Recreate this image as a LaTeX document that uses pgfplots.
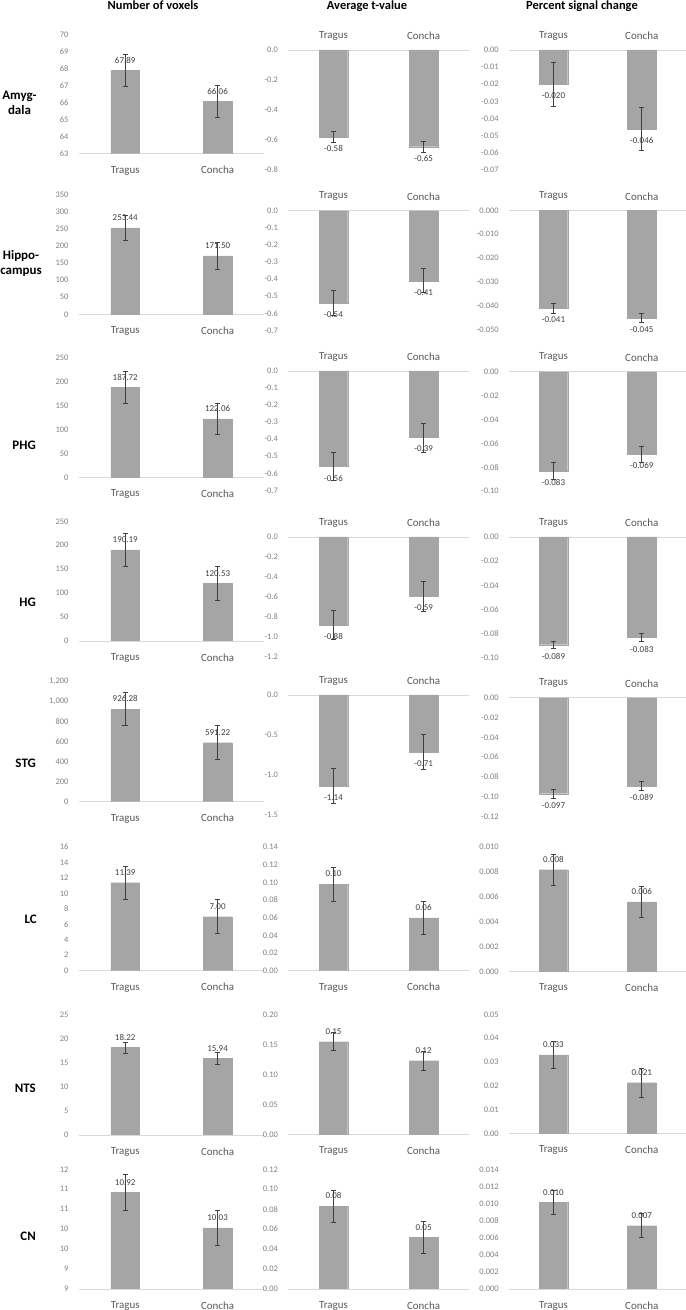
\documentclass[border=0pt]{standalone}
\usepackage{fontspec}
\setmainfont{Carlito}
\usepackage{pgfplots}
\pgfplotsset{compat=1.18}
\definecolor{bargray}{HTML}{A5A5A5}
\definecolor{tickgray}{HTML}{808080}
\definecolor{catgray}{HTML}{595959}
\definecolor{valgray}{HTML}{404040}
\definecolor{basegray}{HTML}{D9D9D9}
\definecolor{errgray}{HTML}{404040}
\pgfplotsset{
 panel/.style={
   scale only axis, anchor=south west,
   xmin=-0.5, xmax=1.5, xtick={0,1}, xticklabels={Tragus,Concha},
   axis y line*=left, y axis line style={draw=none},
   major tick length=0pt, scaled y ticks=false,
   ytick style={draw=none}, xtick style={draw=none},
   x axis line style={draw=basegray, line width=0.9bp, -},
   /pgf/number format/assume math mode=true,
   yticklabel style={font=\fontsize{8.5}{10}\selectfont, text=tickgray, xshift=-7bp},
   xticklabel style={font=\fontsize{11}{13}\selectfont, text=catgray},
   ybar, bar width=28.5bp,
   nodes near coords, point meta=explicit symbolic,
   every node near coord/.append style={font=\fontsize{9}{10}\selectfont, text=valgray},
 },
 pos/.style={panel, axis x line*=bottom, xticklabel style={yshift=-9bp},
   every node near coord/.append style={anchor=south, inner ysep=7bp}},
 neg/.style={panel, axis x line*=top, xticklabel style={yshift=6.5bp},
   every node near coord/.append style={anchor=north, inner ysep=8.5bp}},
 p0/.style={/pgf/number format/fixed,/pgf/number format/precision=0,/pgf/number format/1000 sep={,}},
 p1/.style={/pgf/number format/fixed,/pgf/number format/fixed zerofill,/pgf/number format/precision=1},
 p2/.style={/pgf/number format/fixed,/pgf/number format/fixed zerofill,/pgf/number format/precision=2},
 p3/.style={/pgf/number format/fixed,/pgf/number format/fixed zerofill,/pgf/number format/precision=3},
 bars/.style={fill=bargray, draw=bargray, line width=0.1bp,
   error bars/.cd, y dir=both, y explicit, error mark=-,
   error bar style={draw=errgray, line width=0.75bp, solid},
   error mark options={rotate=90, draw=errgray, line width=0.75bp, mark size=2.7bp, solid}},
}
\newcommand{\bardata}[1]{\addplot[bars] table[x=x,y=y,y error=e,meta=lab,row sep=\\]{#1};}
\begin{document}
\begin{tikzpicture}
\useasboundingbox (0,0) rectangle (686bp,1310bp);
% column titles
\node[font=\bfseries\fontsize{12.5}{15}\selectfont, anchor=base] at (153bp,1300bp) {Number of voxels};
\node[font=\bfseries\fontsize{12.5}{15}\selectfont, anchor=base] at (367bp,1300bp) {Average t-value};
\node[font=\bfseries\fontsize{12.5}{15}\selectfont, anchor=base] at (582bp,1300bp) {Percent signal change};
% row labels
\begin{scope}[every node/.style={font=\bfseries\fontsize{13}{15}\selectfont, align=center, inner sep=0pt}]
\node at (19.5bp,1207.5bp) {Amyg-\\dala};
\node at (21bp,1046.7bp) {Hippo-\\campus};
\node[anchor=east] at (36bp,865bp) {PHG};
\node[anchor=east] at (36bp,708bp) {HG};
\node[anchor=east] at (36bp,546.7bp) {STG};
\node[anchor=east] at (37bp,390.3bp) {LC};
\node[anchor=east] at (36bp,221.7bp) {NTS};
\node[anchor=east] at (36bp,73.3bp) {CN};
\end{scope}
%================ Row 1 Amygdala
\begin{axis}[pos,p0,at={(79bp,1156.3bp)},width=184.8bp,height=119.4bp,ymin=63,ymax=70,ytick={63,64,65,66,67,68,69,70}]
\bardata{x y e lab\\ 0 67.89 0.92 67.89\\ 1 66.06 0.95 66.06\\}
\end{axis}
\begin{axis}[neg,p1,at={(288.4bp,1140bp)},width=180.3bp,height=120bp,ymin=-0.8,ymax=0,ytick={-0.8,-0.6,-0.4,-0.2,0}]
\bardata{x y e lab\\ 0 -0.58 0.035 -0.58\\ 1 -0.645 0.035 -0.65\\}
\end{axis}
\begin{axis}[neg,p2,at={(509.3bp,1140bp)},width=176.6bp,height=120bp,ymin=-0.07,ymax=0,ytick={-0.07,-0.06,-0.05,-0.04,-0.03,-0.02,-0.01,0}]
\bardata{x y e lab\\ 0 -0.020 0.0126 -0.020\\ 1 -0.046 0.0126 -0.046\\}
\end{axis}
%================ Row 2 Hippocampus
\begin{axis}[pos,p0,at={(79bp,995.7bp)},width=184.8bp,height=119.3bp,ymin=0,ymax=350,ytick={0,50,100,150,200,250,300,350}]
\bardata{x y e lab\\ 0 253.44 37 253.44\\ 1 171.50 40 171.50\\}
\end{axis}
\begin{axis}[neg,p1,at={(288.4bp,979.6bp)},width=180.3bp,height=119.7bp,ymin=-0.7,ymax=0,ytick={-0.7,-0.6,-0.5,-0.4,-0.3,-0.2,-0.1,0}]
\bardata{x y e lab\\ 0 -0.54 0.073 -0.54\\ 1 -0.41 0.07 -0.41\\}
\end{axis}
\begin{axis}[neg,p3,at={(509.3bp,980bp)},width=176.6bp,height=119.7bp,ymin=-0.05,ymax=0,ytick={-0.05,-0.04,-0.03,-0.02,-0.01,0}]
\bardata{x y e lab\\ 0 -0.041 0.0021 -0.041\\ 1 -0.045 0.002 -0.045\\}
\end{axis}
%================ Row 3 PHG
\begin{axis}[pos,p0,at={(79bp,832.7bp)},width=184.8bp,height=119.6bp,ymin=0,ymax=250,ytick={0,50,100,150,200,250}]
\bardata{x y e lab\\ 0 187.72 33 187.72\\ 1 122.06 33 122.06\\}
\end{axis}
\begin{axis}[neg,p1,at={(288.4bp,819.6bp)},width=180.3bp,height=119.4bp,ymin=-0.7,ymax=0,ytick={-0.7,-0.6,-0.5,-0.4,-0.3,-0.2,-0.1,0}]
\bardata{x y e lab\\ 0 -0.56 0.082 -0.56\\ 1 -0.39 0.085 -0.39\\}
\end{axis}
\begin{axis}[neg,p2,at={(509.3bp,818.8bp)},width=176.6bp,height=119.5bp,ymin=-0.10,ymax=0,ytick={-0.1,-0.08,-0.06,-0.04,-0.02,0}]
\bardata{x y e lab\\ 0 -0.083 0.0067 -0.083\\ 1 -0.069 0.0067 -0.069\\}
\end{axis}
%================ Row 4 HG
\begin{axis}[pos,p0,at={(79bp,669bp)},width=184.8bp,height=119.7bp,ymin=0,ymax=250,ytick={0,50,100,150,200,250}]
\bardata{x y e lab\\ 0 190.19 35 190.19\\ 1 120.53 35 120.53\\}
\end{axis}
\begin{axis}[neg,p1,at={(288.4bp,653bp)},width=180.3bp,height=120bp,ymin=-1.2,ymax=0,ytick={-1.2,-1,-0.8,-0.6,-0.4,-0.2,0}]
\bardata{x y e lab\\ 0 -0.88 0.147 -0.88\\ 1 -0.59 0.15 -0.59\\}
\end{axis}
\begin{axis}[neg,p2,at={(509.3bp,652bp)},width=176.6bp,height=121bp,ymin=-0.10,ymax=0,ytick={-0.1,-0.08,-0.06,-0.04,-0.02,0}]
\bardata{x y e lab\\ 0 -0.089 0.003 -0.089\\ 1 -0.083 0.003 -0.083\\}
\end{axis}
%================ Row 5 STG
\begin{axis}[pos,p0,at={(79bp,508.3bp)},width=184.8bp,height=120bp,ymin=0,ymax=1200,ytick={0,200,400,600,800,1000,1200}]
\bardata{x y e lab\\ 0 926.28 167 926.28\\ 1 591.22 168 591.22\\}
\end{axis}
\begin{axis}[neg,p1,at={(288.4bp,495bp)},width=180.3bp,height=120bp,ymin=-1.5,ymax=0,ytick={-1.5,-1,-0.5,0}]
\bardata{x y e lab\\ 0 -1.14 0.217 -1.14\\ 1 -0.71 0.22 -0.71\\}
\end{axis}
\begin{axis}[neg,p2,at={(509.3bp,493.5bp)},width=176.6bp,height=118.8bp,ymin=-0.12,ymax=0,ytick={-0.12,-0.1,-0.08,-0.06,-0.04,-0.02,0}]
\bardata{x y e lab\\ 0 -0.097 0.0045 -0.097\\ 1 -0.089 0.0045 -0.089\\}
\end{axis}
%================ Row 6 LC
\begin{axis}[pos,p0,at={(79bp,339.3bp)},width=184.8bp,height=123.7bp,ymin=0,ymax=16,ytick={0,2,4,6,8,10,12,14,16}]
\bardata{x y e lab\\ 0 11.39 2.16 11.39\\ 1 7.00 2.2 7.00\\}
\end{axis}
\begin{axis}[pos,p2,at={(288.4bp,339.3bp)},width=180.3bp,height=123.7bp,ymin=0,ymax=0.14,ytick={0,0.02,0.04,0.06,0.08,0.1,0.12,0.14}]
\bardata{x y e lab\\ 0 0.098 0.019 0.10\\ 1 0.0597 0.019 0.06\\}
\end{axis}
\begin{axis}[pos,p3,at={(509.3bp,338.7bp)},width=176.6bp,height=124.3bp,ymin=0,ymax=0.010,ytick={0,0.002,0.004,0.006,0.008,0.01}]
\bardata{x y e lab\\ 0 0.00817 0.00127 0.008\\ 1 0.00558 0.00126 0.006\\}
\end{axis}
%================ Row 7 NTS
\begin{axis}[pos,p0,at={(79bp,175bp)},width=184.8bp,height=120bp,ymin=0,ymax=25,ytick={0,5,10,15,20,25}]
\bardata{x y e lab\\ 0 18.22 1.15 18.22\\ 1 15.94 1.2 15.94\\}
\end{axis}
\begin{axis}[pos,p2,at={(288.4bp,175.7bp)},width=180.3bp,height=120bp,ymin=0,ymax=0.20,ytick={0,0.05,0.1,0.15,0.2}]
\bardata{x y e lab\\ 0 0.1545 0.015 0.15\\ 1 0.1228 0.016 0.12\\}
\end{axis}
\begin{axis}[pos,p2,at={(509.3bp,176.7bp)},width=176.6bp,height=119bp,ymin=0,ymax=0.05,ytick={0,0.01,0.02,0.03,0.04,0.05}]
\bardata{x y e lab\\ 0 0.0329 0.0056 0.033\\ 1 0.0213 0.006 0.021\\}
\end{axis}
%================ Row 8 CN
\begin{axis}[pos,at={(79bp,21bp)},width=184.8bp,height=119.7bp,ymin=8.5,ymax=11.5,ytick={8.5,9,9.5,10,10.5,11,11.5},yticklabels={9,9,10,10,11,11,12}]
\bardata{x y e lab\\ 0 10.92 0.45 10.92\\ 1 10.03 0.44 10.03\\}
\end{axis}
\begin{axis}[pos,p2,at={(288.4bp,21bp)},width=180.3bp,height=119.7bp,ymin=0,ymax=0.12,ytick={0,0.02,0.04,0.06,0.08,0.1,0.12}]
\bardata{x y e lab\\ 0 0.0832 0.016 0.08\\ 1 0.0518 0.016 0.05\\}
\end{axis}
\begin{axis}[pos,p3,at={(509.3bp,21bp)},width=176.6bp,height=119.7bp,ymin=0,ymax=0.014,ytick={0,0.002,0.004,0.006,0.008,0.01,0.012,0.014}]
\bardata{x y e lab\\ 0 0.01014 0.0014 0.010\\ 1 0.0074 0.0014 0.007\\}
\end{axis}
\end{tikzpicture}
\end{document}
